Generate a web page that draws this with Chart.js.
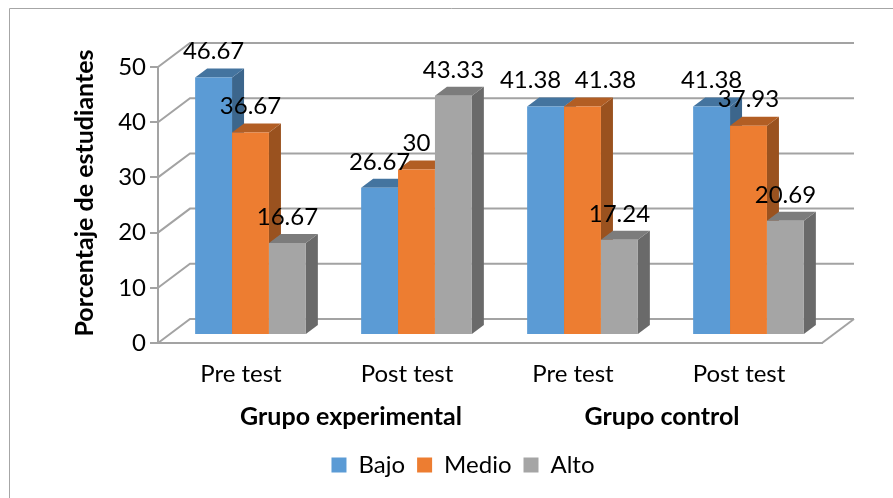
<!DOCTYPE html>
<html lang="en">
  <head>
    <meta charset="utf-8">
    <title>Porcentaje de estudiantes</title>
    <style>
      html, body { margin: 0; padding: 0; background: #fff; }
      .chart-box { position: relative; width: 893px; height: 498px; overflow: hidden; }
    </style>
    <script src="https://cdn.jsdelivr.net/npm/chart.js@4.4.4/dist/chart.umd.min.js"></script>
  </head>
  <body>
    <div class="chart-box"><canvas id="plot" width="893" height="498"></canvas></div>
    <script>
      const categories = ['Pre test', 'Post test', 'Pre test', 'Post test'];
      const groups = ['Grupo experimental', 'Grupo control'];
      const bajo = [46.67, 26.67, 41.38, 41.38];
      const medio = [36.67, 30, 41.38, 37.93];
      const alto = [16.67, 43.33, 17.24, 20.69];
      const yTicks = [0, 10, 20, 30, 40, 50];

      const FONT = 'Lato, Carlito, sans-serif';
      const TEXT = '#000';
      const WALL = '#a3a3a3';
      // how far the back wall and the bars sit behind the front plane
      const wall_dx = 32, wall_dy = 24;
      const bar_dx = 9.5, bar_dy = 8;
      const depth_dx = 12, depth_dy = 9;

      const top_colors = ['#44749f', '#b25e24', '#7c7c7c'];
      const side_colors = ['#3c668c', '#9a521f', '#6a6a6a'];

      // the two touching 41.38 labels were pulled apart by hand in the original
      function labelShift(series, cat) {
        if (cat !== 2) return 0;
        if (series === 0) return -15;
        if (series === 1) return 23;
        return 0;
      }

      function drawBarDepth(ctx, bar, index) {
        const left = bar.x - bar.width / 2;
        const right = bar.x + bar.width / 2;
        ctx.fillStyle = side_colors[index];
        ctx.beginPath();
        ctx.moveTo(right, bar.y);
        ctx.lineTo(right + depth_dx, bar.y - depth_dy);
        ctx.lineTo(right + depth_dx, bar.base - depth_dy);
        ctx.lineTo(right, bar.base);
        ctx.closePath();
        ctx.fill();
        ctx.fillStyle = top_colors[index];
        ctx.beginPath();
        ctx.moveTo(left, bar.y);
        ctx.lineTo(left + depth_dx, bar.y - depth_dy);
        ctx.lineTo(right + depth_dx, bar.y - depth_dy);
        ctx.lineTo(right, bar.y);
        ctx.closePath();
        ctx.fill();
      }

      const box3d = {
        id: 'box3d',
        afterLayout(chart) {
          // legend sits under the middle of the whole picture, not the plot
          chart.legend.left += 52;
          chart.legend.right += 52;
        },
        // bars are painted below, left series first, so the stock pass is skipped
        beforeDatasetDraw() {
          return false;
        },
        beforeDatasetsDraw(chart) {
          const ctx = chart.ctx;
          const y = chart.scales.y;
          const area = chart.chartArea;
          ctx.save();
          ctx.strokeStyle = WALL;
          ctx.lineWidth = 2;
          yTicks.forEach(v => {
            const py = y.getPixelForValue(v);
            ctx.beginPath();
            ctx.moveTo(area.left, py);
            ctx.lineTo(area.left + wall_dx, py - wall_dy);
            ctx.lineTo(area.right + wall_dx, py - wall_dy);
            ctx.stroke();
          });
          ctx.beginPath();
          ctx.moveTo(area.right, area.bottom);
          ctx.lineTo(area.right + wall_dx, area.bottom - wall_dy);
          ctx.stroke();
          ctx.translate(bar_dx, -bar_dy);
          chart.data.datasets.forEach((ds, i) => {
            const meta = chart.getDatasetMeta(i);
            meta.data.forEach(bar => drawBarDepth(ctx, bar, i));
            meta.controller.draw();
          });
          ctx.restore();
        },
        afterDraw(chart) {
          const ctx = chart.ctx;
          const x = chart.scales.x;
          ctx.save();
          // outer frame, only its top and left edges are in the picture
          ctx.strokeStyle = '#a6a6a6';
          ctx.lineWidth = 1;
          ctx.beginPath();
          ctx.moveTo(9.5, 498);
          ctx.lineTo(9.5, 8.5);
          ctx.lineTo(893, 8.5);
          ctx.stroke();
          // data labels
          ctx.fillStyle = TEXT;
          ctx.font = '24px ' + FONT;
          ctx.textAlign = 'center';
          ctx.textBaseline = 'middle';
          chart.data.datasets.forEach((ds, i) => {
            chart.getDatasetMeta(i).data.forEach((bar, j) => {
              ctx.fillText(String(ds.data[j]), bar.x + bar_dx + labelShift(i, j), bar.y - bar_dy - 26);
            });
          });
          // group labels under the categories
          ctx.font = 'bold 25px ' + FONT;
          groups.forEach((g, i) => {
            const mid = (x.getPixelForValue(i * 2) + x.getPixelForValue(i * 2 + 1)) / 2;
            ctx.fillText(g, mid + 27 - i * 21, 417);
          });
          // axis title
          ctx.translate(85, 193);
          ctx.rotate(-Math.PI / 2);
          ctx.fillText('Porcentaje de estudiantes', 0, 0);
          ctx.restore();
        }
      };

      new Chart(document.getElementById('plot'), {
        type: 'bar',
        data: {
          labels: categories,
          datasets: [
            { label: 'Bajo', data: bajo, backgroundColor: '#5b9bd5', clip: false },
            { label: 'Medio', data: medio, backgroundColor: '#ed7d31', clip: false },
            { label: 'Alto', data: alto, backgroundColor: '#a5a5a5', clip: false },
          ]
        },
        options: {
          responsive: false,
          animation: false,
          categoryPercentage: 0.667,
          barPercentage: 1,
          layout: { padding: { top: 67, right: 71, left: 0, bottom: 11 } },
          scales: {
            x: {
              grid: { display: false },
              border: { color: WALL, width: 2 },
              ticks: { color: TEXT, font: { family: FONT, size: 24 }, padding: 9, maxRotation: 0 },
              afterFit(scale) { scale.height = 98; }
            },
            y: {
              min: 0,
              max: 50,
              afterFit(scale) { scale.width = 158; },
              grid: { drawOnChartArea: false, color: WALL, lineWidth: 2, tickLength: 8 },
              border: { color: WALL, width: 2 },
              ticks: { stepSize: 10, color: TEXT, font: { family: FONT, size: 24 }, padding: 4 }
            }
          },
          plugins: {
            tooltip: { enabled: false },
            legend: {
              position: 'bottom',
              labels: { color: TEXT, font: { family: FONT, size: 24 }, boxWidth: 15, boxHeight: 15, padding: 12 }
            }
          }
        },
        plugins: [box3d]
      });
    </script>
  </body>
</html>
